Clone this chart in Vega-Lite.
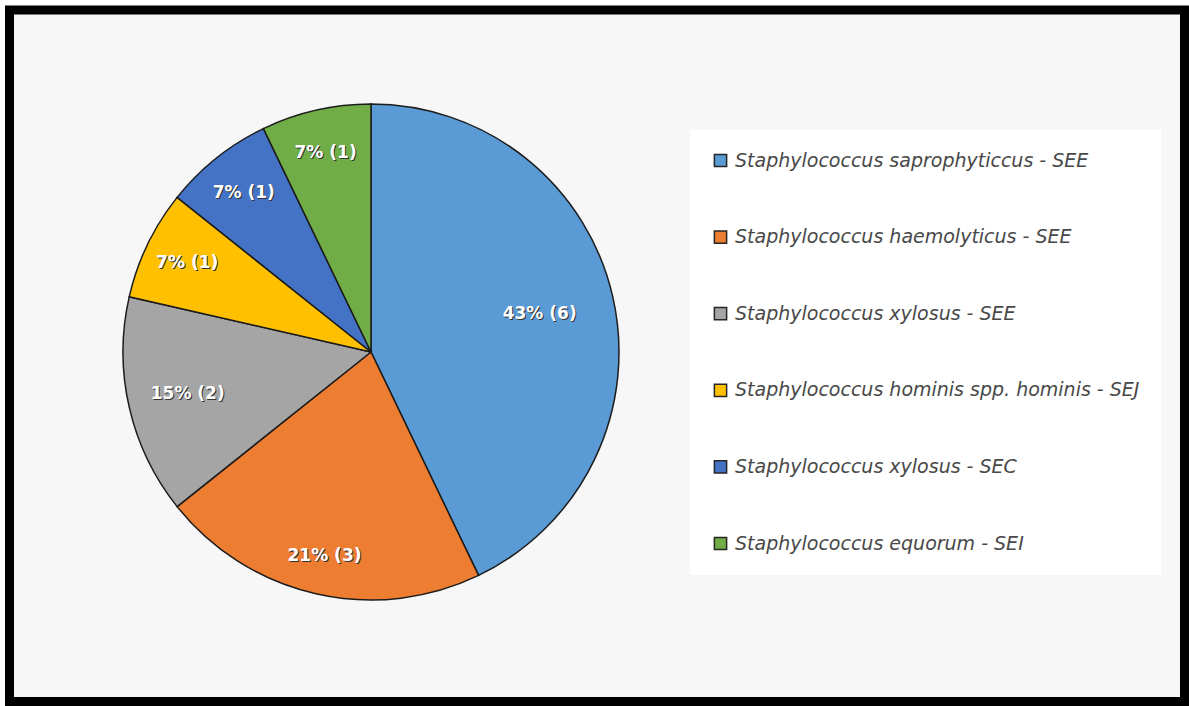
{
  "$schema": "https://vega.github.io/schema/vega-lite/v6.json",
  "width": 1189,
  "height": 706,
  "autosize": {"type": "fit", "contains": "padding"},
  "padding": {"left": 9.5, "top": 10, "right": 4.5, "bottom": 4.5},
  "background": "white",
  "view": {"stroke": "black", "strokeWidth": 9, "fill": "#f7f7f7"},
  "data": {
    "values": [
      {"k": 1, "species": "Staphylococcus saprophyticcus - SEE", "count": 6, "label": "43% (6)"},
      {"k": 2, "species": "Staphylococcus haemolyticus - SEE", "count": 3, "label": "21% (3)"},
      {"k": 3, "species": "Staphylococcus xylosus - SEE", "count": 2, "label": "15% (2)"},
      {"k": 4, "species": "Staphylococcus hominis spp. hominis - SEJ", "count": 1, "label": "7% (1)"},
      {"k": 5, "species": "Staphylococcus xylosus - SEC", "count": 1, "label": "7% (1)"},
      {"k": 6, "species": "Staphylococcus equorum - SEI", "count": 1, "label": "7% (1)"}
    ]
  },
  "layer": [
    {
      "mark": {"type": "arc", "outerRadius": 248, "stroke": "#1c1c1c", "strokeWidth": 1.5, "x": 361.5, "y": 342},
      "encoding": {
        "theta": {"field": "count", "type": "quantitative", "stack": true},
        "order": {"field": "k", "type": "quantitative"},
        "color": {
          "field": "species",
          "type": "nominal",
          "scale": {
            "domain": [
              "Staphylococcus saprophyticcus - SEE",
              "Staphylococcus haemolyticus - SEE",
              "Staphylococcus xylosus - SEE",
              "Staphylococcus hominis spp. hominis - SEJ",
              "Staphylococcus xylosus - SEC",
              "Staphylococcus equorum - SEI"
            ],
            "range": ["#5B9BD5", "#ED7D31", "#A5A5A5", "#FFC000", "#4472C4", "#70AD47"]
          },
          "legend": {
            "title": null,
            "orient": "none",
            "legendX": 680.5,
            "legendY": 120,
            "fillColor": "white",
            "padding": 21,
            "symbolType": "square",
            "symbolSize": 150,
            "symbolStrokeColor": "#262626",
            "symbolStrokeWidth": 1.5,
            "labelFont": "DejaVu Sans",
            "labelFontStyle": "italic",
            "labelFontSize": 19,
            "labelColor": "#484848",
            "labelOffset": 5,
            "labelLimit": 600,
            "rowPadding": 56.6
          }
        }
      }
    },
    {
      "mark": {"type": "text", "x": 362.5, "y": 343, "font": "DejaVu Sans", "fontWeight": "bold", "fontSize": 17, "fill": "#333333", "align": "center", "baseline": "middle"},
      "encoding": {
        "theta": {"field": "count", "type": "quantitative", "stack": true},
        "order": {"field": "k", "type": "quantitative"},
        "radius": {"field": "count", "type": "quantitative", "scale": {"type": "linear", "zero": false, "domain": [1, 2, 3, 6], "range": [204, 188, 209, 173]}},
        "text": {"field": "label", "type": "nominal"}
      }
    },
    {
      "mark": {"type": "text", "x": 361.5, "y": 342, "font": "DejaVu Sans", "fontWeight": "bold", "fontSize": 17, "fill": "#ffffff", "align": "center", "baseline": "middle"},
      "encoding": {
        "theta": {"field": "count", "type": "quantitative", "stack": true},
        "order": {"field": "k", "type": "quantitative"},
        "radius": {"field": "count", "type": "quantitative", "scale": {"type": "linear", "zero": false, "domain": [1, 2, 3, 6], "range": [204, 188, 209, 173]}},
        "text": {"field": "label", "type": "nominal"}
      }
    }
  ]
}
